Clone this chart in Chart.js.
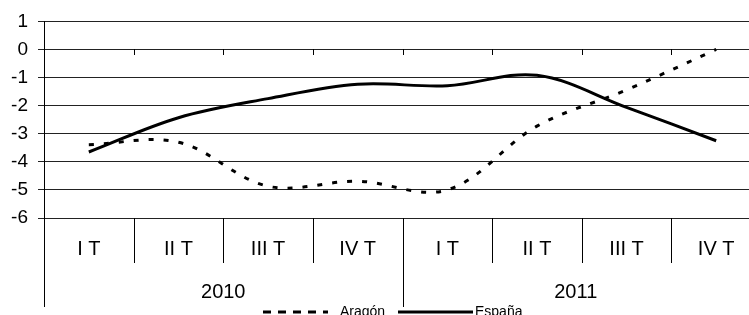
<!DOCTYPE html>
<html>
<head>
<meta charset="utf-8">
<script src="https://cdn.jsdelivr.net/npm/chart.js@4.4.1/dist/chart.umd.min.js"></script>
<style>
  html, body { margin: 0; padding: 0; background: #fff; overflow: hidden; }
  #wrap { position: relative; width: 765px; height: 315px; }
</style>
</head>
<body>
<div id="wrap"><canvas id="chart"></canvas></div>
<script>
// data
const quarters = ['I T', 'II T', 'III T', 'IV T', 'I T', 'II T', 'III T', 'IV T'];
const years = ['2010', '2011'];
const yTicks = [1, 0, -1, -2, -3, -4, -5, -6];
const aragon = [-3.39, -3.3, -4.87, -4.69, -5.0, -2.73, -1.44, 0.0];
const espana = [-3.65, -2.43, -1.75, -1.24, -1.29, -0.92, -2.06, -3.25];

const FONT = "'Liberation Sans', Arial, sans-serif";

// two-row category axis, zero-line ticks and the legend
const categoryBoxes = {
  id: 'categoryBoxes',
  afterDraw(chart) {
    const { ctx, chartArea } = chart;
    const xs = chart.scales.x;
    const ys = chart.scales.y;
    const step = xs.getPixelForValue(1) - xs.getPixelForValue(0);
    const top = Math.round(chartArea.bottom);
    const zero = Math.round(ys.getPixelForValue(0));
    const perYear = quarters.length / years.length;

    ctx.save();
    ctx.strokeStyle = '#000';
    ctx.lineWidth = 1;
    ctx.beginPath();
    // y axis runs down through the label rows
    const ax = Math.round(chartArea.left) + 0.5;
    ctx.moveTo(ax, top);
    ctx.lineTo(ax, top + 89);
    for (let i = 0; i <= quarters.length; i++) {
      const bx = Math.round(xs.getPixelForValue(i) - step / 2) + 0.5;
      const isYear = i % perYear === 0;
      if (i > 0) {
        ctx.moveTo(bx, top);
        ctx.lineTo(bx, top + (isYear ? 89 : 45));
        ctx.moveTo(bx, zero);
        ctx.lineTo(bx, zero + 6);
      }
    }
    ctx.stroke();

    ctx.fillStyle = '#000';
    ctx.textAlign = 'center';
    ctx.textBaseline = 'middle';
    ctx.font = '20px ' + FONT;
    quarters.forEach((q, i) => {
      ctx.fillText(q, xs.getPixelForValue(i), top + 31);
    });
    years.forEach((yr, j) => {
      const start = xs.getPixelForValue(j * perYear) - step / 2;
      const end = Math.min(xs.getPixelForValue((j + 1) * perYear - 1) + step / 2, window.innerWidth);
      ctx.fillText(yr, (start + end) / 2, top + 74);
    });

    // legend
    const ly = top + 94;
    const samples = [[263, 328], [398, 473]];
    ctx.textAlign = 'left';
    ctx.textBaseline = 'alphabetic';
    ctx.font = '14px ' + FONT;
    chart.data.datasets.forEach((ds, i) => {
      const [x0, x1] = samples[i];
      ctx.beginPath();
      ctx.lineWidth = 3;
      ctx.setLineDash(ds.borderDash ? [8, 7] : []);
      ctx.moveTo(x0, ly);
      ctx.lineTo(x1, ly);
      ctx.stroke();
      ctx.setLineDash([]);
      ctx.fillText(ds.label, x1 + (ds.borderDash ? 12 : 2), ly + 3.5);
    });
    ctx.restore();
  }
};

new Chart(document.getElementById('chart'), {
  type: 'line',
  data: {
    labels: quarters,
    datasets: [
      {
        label: 'Aragón',
        data: aragon,
        borderColor: '#000',
        borderWidth: 3,
        borderDash: [5, 10],
        pointRadius: 0,
        tension: 0.35,
        fill: false
      },
      {
        label: 'España',
        data: espana,
        borderColor: '#000',
        borderWidth: 3,
        pointRadius: 0,
        tension: 0.35,
        fill: false
      }
    ]
  },
  options: {
    responsive: true,
    maintainAspectRatio: false,
    animation: false,
    layout: { padding: { top: 21, right: 4, bottom: 97, left: 0 } },
    plugins: {
      legend: { display: false },
      tooltip: { enabled: false }
    },
    scales: {
      x: {
        type: 'category',
        offset: true,
        display: false
      },
      y: {
        min: yTicks[yTicks.length - 1],
        max: yTicks[0],
        afterFit(scale) { scale.width = 44; },
        ticks: {
          stepSize: 1,
          padding: 10,
          color: '#000',
          font: { family: FONT, size: 19 },
          callback: (v) => yTicks.includes(v) ? String(v) : ''
        },
        grid: { color: '#222', lineWidth: 1, tickLength: 6 },
        border: { color: '#000', width: 1 }
      }
    }
  },
  plugins: [categoryBoxes]
});
</script>
</body>
</html>
